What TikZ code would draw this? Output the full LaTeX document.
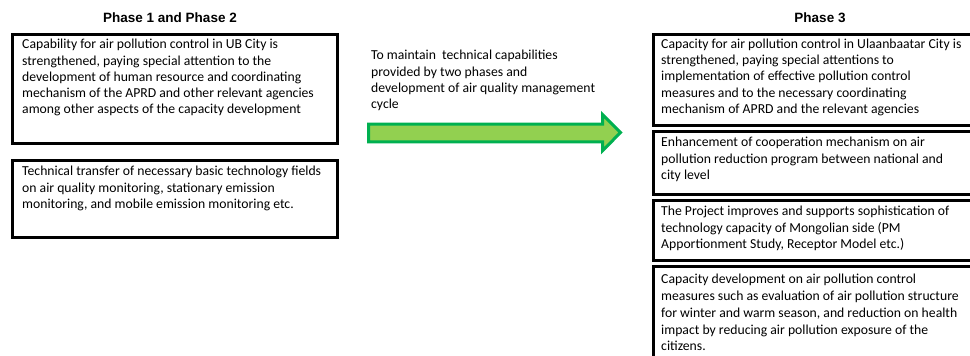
\documentclass[tikz,border=0pt]{standalone}
\usepackage{fontspec}
\newfontfamily\bodyf{Carlito}
\newfontfamily\titlef{Liberation Sans}
\definecolor{arrfill}{HTML}{92D050}
\definecolor{arrline}{HTML}{00B050}
\begin{document}
\begin{tikzpicture}[x=1pt,y=-1pt,
  boxn/.style={draw, line width=3pt, inner sep=0pt, anchor=north west},
  txt/.style={anchor=north west, align=left, inner sep=0pt, font=\bodyf\fontsize{13.7}{16.3}\selectfont},
  ttl/.style={inner sep=0pt, font=\titlef\bfseries\fontsize{13.5}{15}\selectfont}]
\clip (0,0) rectangle (970,356);
% titles
\node[ttl] (t12) at (170,18) {Phase 1 and Phase 2};
\node[ttl] (t3) at (820,18) {Phase 3};
% left boxes
\node[boxn, minimum width=325pt, minimum height=109pt] (l1) at (10.5,32.5) {};
\node[txt] (l1t) at (22,39) {Capability for air pollution control in UB City is\\strengthened, paying special attention to the\\development of human resource and coordinating\\mechanism of the APRD and other relevant agencies\\among other aspects of the capacity development};
\node[boxn, minimum width=325pt, minimum height=77pt] (l2) at (10.5,158.5) {};
\node[txt] (l2t) at (22,166) {Technical transfer of necessary basic technology fields\\on air quality monitoring, stationary emission\\monitoring, and mobile emission monitoring etc.};
% middle text
\node[txt] (mt) at (371,50) {To maintain\ \ technical capabilities\\provided by two phases and\\development of air quality management\\cycle};
% arrow
\draw[line width=3pt, draw=arrline, fill=arrfill, line join=miter]
  (368.5,124.2) -- (602.5,124.2) -- (602.5,114.5) -- (620.5,132.5) -- (602.5,150.8) -- (602.5,141.8) -- (368.5,141.8) -- cycle;
% right boxes
\node[boxn, minimum width=345pt, minimum height=91pt] (r1) at (651.5,32.5) {};
\node[txt] (r1t) at (661,38.5) {Capacity for air pollution control in Ulaanbaatar City is\\strengthened, paying special attentions to\\implementation of effective pollution control\\measures and to the necessary coordinating\\mechanism of APRD and the relevant agencies};
\node[boxn, minimum width=345pt, minimum height=63pt] (r2) at (651.5,129.5) {};
\node[txt] (r2t) at (661,137) {Enhancement of cooperation mechanism on air\\pollution reduction program between national and\\city level};
\node[boxn, minimum width=345pt, minimum height=60pt] (r3) at (651.5,198.5) {};
\node[txt] (r3t) at (661,206) {The Project improves and supports sophistication of\\technology capacity of Mongolian side (PM\\Apportionment Study, Receptor Model etc.)};
\node[boxn, minimum width=345pt, minimum height=110pt] (r4) at (651.5,264.5) {};
\node[txt, font=\bodyf\fontsize{13.7}{16.8}\selectfont] (r4t) at (661,274) {Capacity development on air pollution control\\measures such as evaluation of air pollution structure\\for winter and warm season, and reduction on health\\impact by reducing air pollution exposure of the\\citizens.};
\end{tikzpicture}
\end{document}
